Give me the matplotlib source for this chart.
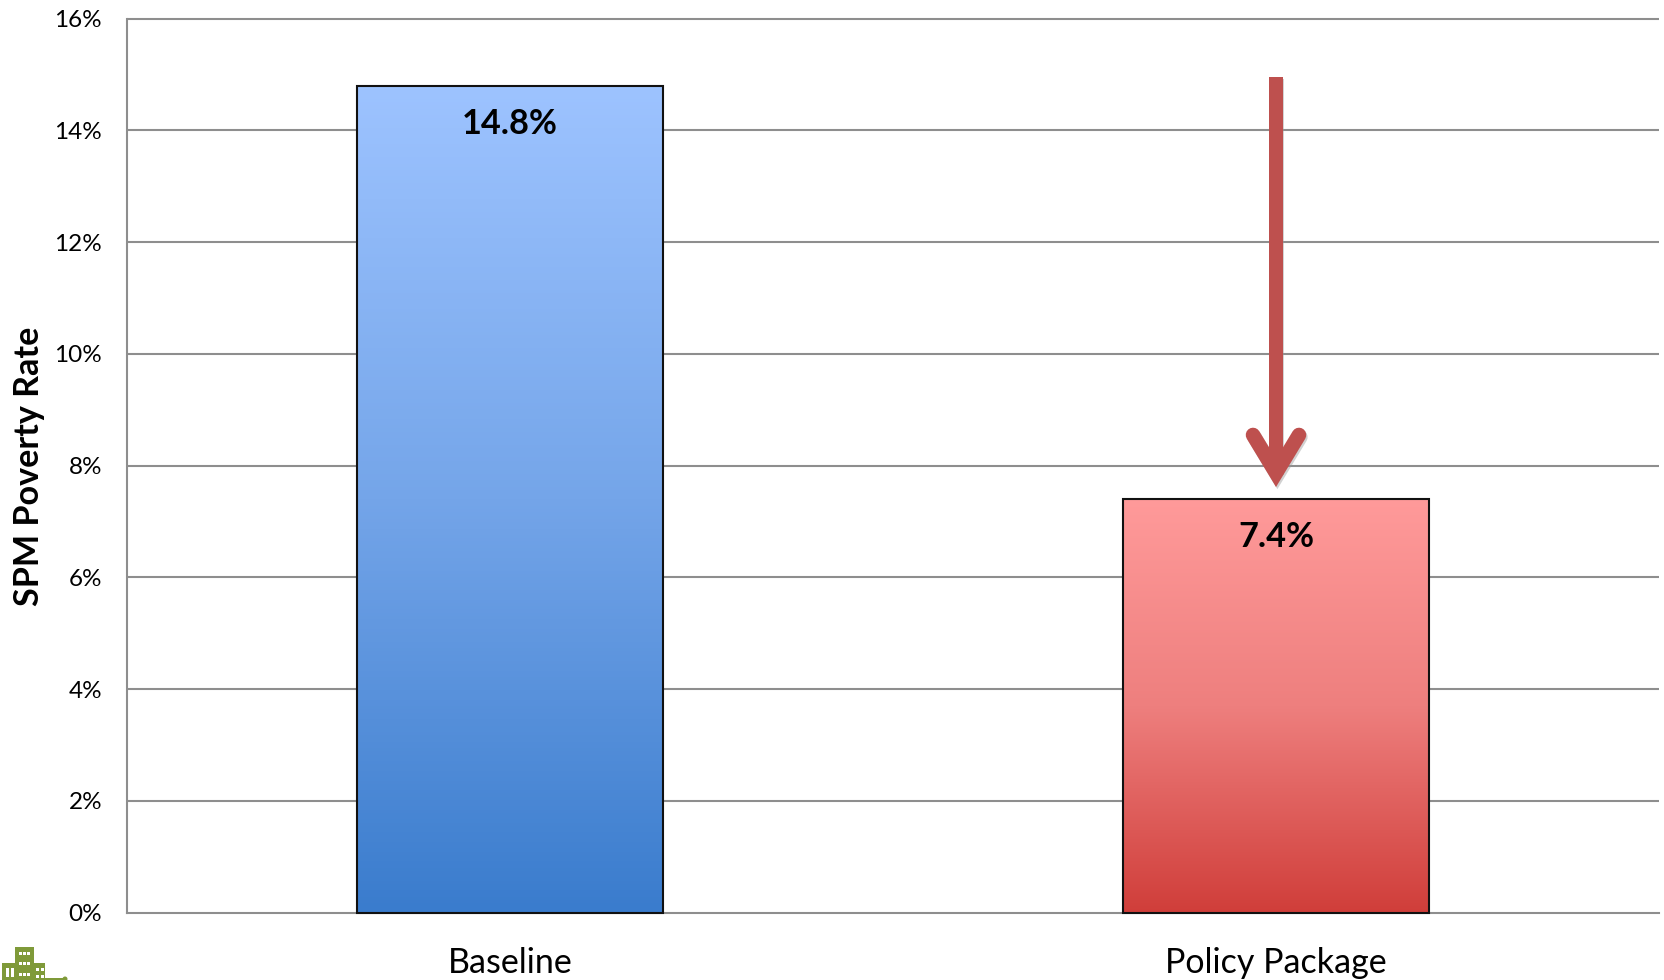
import numpy as np
import matplotlib
matplotlib.use("Agg")
import matplotlib.pyplot as plt
import matplotlib.patheffects as pe
from matplotlib.colors import LinearSegmentedColormap
from matplotlib.patches import Rectangle, Circle
from matplotlib.transforms import Affine2D

# Poverty rates
categories = ["Baseline", "Policy Package"]
rates = [14.8, 7.4]
rate_labels = ["14.8%", "7.4%"]
y_ticks = [0, 2, 4, 6, 8, 10, 12, 14, 16]
y_tick_labels = ["0%", "2%", "4%", "6%", "8%", "10%", "12%", "14%", "16%"]
y_title = "SPM Poverty Rate"

# Gradient colours for each bar: (top, middle, bottom)
bar_gradients = [("#9DC3FF", "#74A5E9", "#3A7CCD"), ("#FF9A9A", "#EE7F7E", "#D03E3A")]

# Reduction arrow, in axis units
arrow_start = 14.95
arrow_head_vertex = 7.87
arrow_barb_end = 8.55
arrow_barb_spread = 0.03

W, H = 1664, 980
GRID = "#8E8E8E"
plt.rcParams["font.family"] = ["Lato", "DejaVu Sans"]

fig = plt.figure(figsize=(W / 100, H / 100), dpi=100, facecolor="white")
ax = fig.add_axes([127 / W, 1 - 912.7 / H, (1659 - 127) / W, (912.7 - 18.7) / H])

for s in ("top", "right"):
    ax.spines[s].set_visible(False)
for s in ("left", "bottom"):
    ax.spines[s].set_color(GRID)
    ax.spines[s].set_linewidth(1.5)
    ax.spines[s].set_zorder(1.5)

ax.hlines(y_ticks[1:], -0.5, 1.5, color=GRID, lw=1.5, zorder=1, clip_on=False)

bar_width = 0.4
for i, (rate, label, colors) in enumerate(zip(rates, rate_labels, bar_gradients)):
    cmap = LinearSegmentedColormap.from_list(f"bar{i}", colors)
    gradient = np.linspace(0, 1, 256).reshape(-1, 1)
    ax.imshow(gradient, cmap=cmap, aspect="auto", zorder=2,
              extent=(i - bar_width / 2, i + bar_width / 2, 0, rate))
    ax.add_patch(Rectangle((i - bar_width / 2, 0), bar_width, rate, fill=False,
                           edgecolor="#111111", lw=1.5, zorder=3, clip_on=False))
    ax.text(i, rate - 0.68, label, ha="center", va="center",
            fontsize=24.7, fontweight="bold", color="black", zorder=4)
# imshow resets the limits
ax.set_xlim(-0.5, 1.5)
ax.set_ylim(0, 16)

ax.set_xticks(range(len(categories)), categories)
ax.set_yticks(y_ticks, y_tick_labels)
ax.tick_params(axis="x", length=0, pad=24.5, labelsize=24.5, labelcolor="black")
ax.tick_params(axis="y", length=0, pad=18, labelsize=17.5, labelcolor="black")
fig.text(29 / W, 1 - 466 / H, y_title, rotation=90, ha="center", va="center",
         fontsize=24.6, fontweight="bold", color="black")

# Downward arrow over the second bar
arrow_color = "#BE504E"
shadow = [pe.SimpleLineShadow(offset=(1, -1.5), shadow_color="#999999", alpha=0.45), pe.Normal()]
ax.plot([1, 1], [arrow_start, arrow_head_vertex], color=arrow_color, lw=10,
        solid_capstyle="butt", zorder=5, path_effects=shadow)
ax.plot([1 - arrow_barb_spread, 1, 1 + arrow_barb_spread],
        [arrow_barb_end, arrow_head_vertex, arrow_barb_end],
        color=arrow_color, lw=10.5, solid_capstyle="round", solid_joinstyle="miter",
        zorder=5.1, path_effects=shadow)
ax.plot([1, 1], [arrow_start, arrow_head_vertex], color=arrow_color, lw=10,
        solid_capstyle="butt", zorder=5.2)

# Small green building emblem at the lower-left corner
px = Affine2D().scale(1, -1).translate(0, H)
green = "#7F9A39"
blocks = [(15, 947, 19, 40), (2, 963, 43, 20), (44, 978, 22, 5)]
for x, y, w, h in blocks:
    fig.add_artist(Rectangle((x, y), w, h, facecolor=green, edgecolor="none", transform=px))
fig.add_artist(Circle((65, 979), 2.5, facecolor=green, edgecolor="none", transform=px))
windows = [(19, 952), (23, 952), (27, 952), (19, 962), (23, 962), (27, 962),
           (19, 973), (23, 973), (27, 973), (36, 968), (41, 968), (36, 975), (41, 975)]
for x, y in windows:
    fig.add_artist(Rectangle((x, y), 2.6, 3.4, facecolor="white", edgecolor="none", transform=px))
for x in (6, 11):
    fig.add_artist(Rectangle((x, 968), 2.6, 9, facecolor="white", edgecolor="none", transform=px))

fig.savefig("out.png", dpi=100, facecolor="white")
